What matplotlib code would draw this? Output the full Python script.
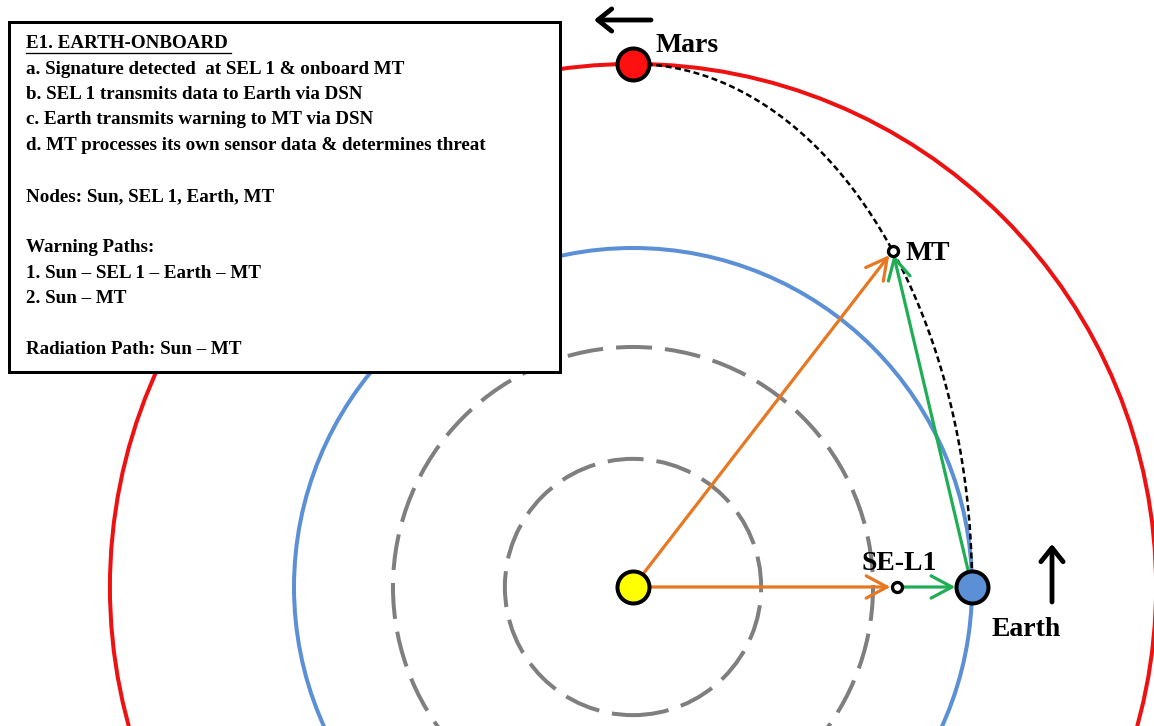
import numpy as np
import matplotlib
matplotlib.use("Agg")
import matplotlib.pyplot as plt
from matplotlib.patches import Circle, Rectangle

plt.rcParams["lines.scale_dashes"] = False

# ---- data (AU) ----
orbit_names = ["Mercury", "Venus", "Earth", "Mars"]
orbit_radii = [0.378, 0.708, 1.0, 1.543]
earth_angle_deg = 0.0
mars_angle_deg = 90.0
mt_param_deg = 40.0          # position of MT along transfer path
sel1_radius = 0.78
box_lines = [
    "a. Signature detected  at SEL 1 & onboard MT",
    "b. SEL 1 transmits data to Earth via DSN",
    "c. Earth transmits warning to MT via DSN",
    "d. MT processes its own sensor data & determines threat",
    "",
    "Nodes: Sun, SEL 1, Earth, MT",
    "",
    "Warning Paths:",
    "1. Sun \u2013 SEL 1 \u2013 Earth \u2013 MT",
    "2. Sun \u2013 MT",
    "",
    "Radiation Path: Sun \u2013 MT",
]
box_title = "E1. EARTH-ONBOARD"

# ---- figure ----
W, H = 1154, 726
S = 339.0  # px per AU
sun_px = (633, 587)
fig = plt.figure(figsize=(W / 100, H / 100), dpi=100)
ax = fig.add_axes([0, 0, 1, 1])
ax.set_xlim(-sun_px[0] / S, (W - sun_px[0]) / S)
ax.set_ylim(-(H - sun_px[1]) / S, sun_px[1] / S)
ax.set_aspect("equal")
ax.axis("off")

PX = 0.72  # points per pixel
serif = ["Liberation Serif", "DejaVu Serif"]

# orbits
gray_style = dict(fill=False, ec="#7f7f7f", lw=4 * PX, linestyle=(0, (36 * PX, 13 * PX)))
ax.add_patch(Circle((0, 0), orbit_radii[0], **gray_style, zorder=1))
ax.add_patch(Circle((0, 0), orbit_radii[1], **gray_style, zorder=1))
ax.add_patch(Circle((0, 0), orbit_radii[2], fill=False, ec="#5b8fd6", lw=4 * PX, zorder=1))
ax.add_patch(Circle((0, 0), orbit_radii[3], fill=False, ec="#ee1111", lw=4 * PX, zorder=1))

# positions
ea = np.radians(earth_angle_deg)
ma = np.radians(mars_angle_deg)
earth = (orbit_radii[2] * np.cos(ea), orbit_radii[2] * np.sin(ea))
mars = (orbit_radii[3] * np.cos(ma), orbit_radii[3] * np.sin(ma))
t = np.radians(mt_param_deg)
mt = (orbit_radii[2] * np.cos(t), orbit_radii[3] * np.sin(t))
sel1 = (sel1_radius, 0.0)

# transfer path (dashed black)
tt = np.linspace(0, np.pi / 2, 200)
ax.plot(orbit_radii[2] * np.cos(tt), orbit_radii[3] * np.sin(tt), color="black",
        lw=2.5 * PX, linestyle=(0, (6 * PX, 3.5 * PX)), zorder=2)

# arrows
def arrow(p0, p1, color, lw, sa=0, sb=0, hl=1.5, hw=0.8):
    ax.annotate("", xy=p1, xytext=p0,
                arrowprops=dict(arrowstyle=f"->,head_length={hl},head_width={hw}",
                                color=color, lw=lw, shrinkA=sa, shrinkB=sb),
                zorder=3)

orange = "#e87722"
green = "#1fae55"
arrow((0, 0), mt, orange, 3.2 * PX, sa=10, sb=4)
arrow((0, 0), sel1, orange, 3.2 * PX, sa=10, sb=5)
arrow(sel1, earth, green, 3.2 * PX, sa=3, sb=12)
arrow(earth, mt, green, 3.2 * PX, sa=11, sb=3)

# bodies
big = 32 * PX
ax.plot(*mars, "o", ms=big, mfc="#ff1010", mec="black", mew=4 * PX, zorder=5)
ax.plot(*earth, "o", ms=big, mfc="#5b8fd6", mec="black", mew=4 * PX, zorder=5)
ax.plot(0, 0, "o", ms=big, mfc="#ffff00", mec="black", mew=4 * PX, zorder=5)
ax.plot(*mt, "o", ms=10 * PX, mfc="white", mec="black", mew=3.3 * PX, zorder=5)
ax.plot(*sel1, "o", ms=10 * PX, mfc="white", mec="black", mew=3.3 * PX, zorder=5)

# labels
def px2d(x, y):
    return ((x - sun_px[0]) / S, (sun_px[1] - y) / S)

lab = dict(family=serif, weight="bold", fontsize=20, color="black", zorder=6)
ax.text(*px2d(656, 45), "Mars", ha="left", va="center", **lab)
ax.text(*px2d(906, 253), "MT", ha="left", va="center", **lab)
ax.text(*px2d(899, 563), "SE-L1", ha="center", va="center", **lab)
ax.text(*px2d(1026, 629), "Earth", ha="center", va="center", **lab)

# direction arrows
def black_arrow(p0, p1):
    ax.annotate("", xy=px2d(*p1), xytext=px2d(*p0),
                arrowprops=dict(arrowstyle="->,head_length=1.0,head_width=0.8",
                                color="black", lw=4.8 * PX, shrinkA=0, shrinkB=0),
                zorder=6)

black_arrow((651, 20), (594, 20))
black_arrow((1052, 602), (1052, 544))

# text box
bx0, by0, bx1, by1 = 9, 22, 560, 372
x0d, y0d = px2d(bx0, by1)
x1d, y1d = px2d(bx1, by0)
ax.add_patch(Rectangle((x0d, y0d), x1d - x0d, y1d - y0d, fc="white", ec="black",
                       lw=3 * PX, zorder=10))
fs = 13.7
tx = 26
ax.text(*px2d(tx, 43), box_title, ha="left", va="center", family=serif,
        weight="bold", fontsize=fs, zorder=11)
ax.plot([px2d(tx, 0)[0], px2d(231, 0)[0]], [px2d(0, 52.5)[1]] * 2, color="black",
        lw=1.3 * PX, zorder=11)
y = 69
for line in box_lines:
    if line:
        ax.text(*px2d(tx, y), line, ha="left", va="center", family=serif,
                weight="bold", fontsize=fs, zorder=11)
    y += 25.5

fig.savefig("out.png", dpi=100, facecolor="white")
